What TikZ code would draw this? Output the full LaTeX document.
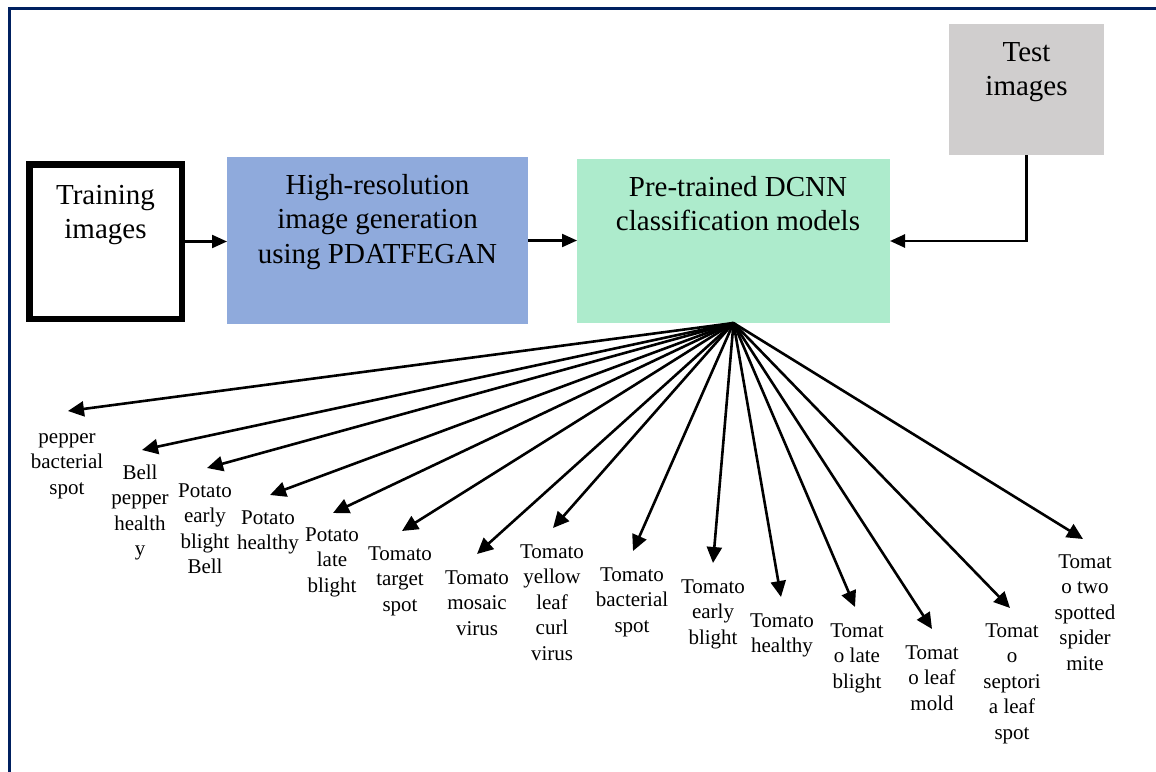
\documentclass[tikz,border=0pt]{standalone}
\usepackage{fontspec}
\setmainfont{Liberation Serif}
\usetikzlibrary{arrows.meta,calc}
\definecolor{navy}{RGB}{0,32,96}
\definecolor{ganblue}{RGB}{143,170,220}
\definecolor{dcnngreen}{RGB}{173,235,204}
\definecolor{testgray}{RGB}{208,206,206}
\tikzset{
  bigtxt/.style={font=\fontsize{29}{34.5}\selectfont, align=center, anchor=base, inner sep=0pt},
  lab/.style={font=\fontsize{21}{25.5}\selectfont, align=center, anchor=base, inner sep=0pt},
  plainbox/.style={draw=none, inner sep=0pt, outer sep=0pt},
  flow/.style={line width=2.2pt, -{Triangle[length=15pt,width=13pt]}},
  fanarrow/.style={line width=2.6pt, -{Triangle[length=16pt,width=15pt]}}
}
\begin{document}
\begin{tikzpicture}[x=1pt,y=-1pt]
\useasboundingbox (0,0) rectangle (1156,771);
\fill[white] (0,0) rectangle (1156,771);
% frame (top and left visible)
\draw[navy, line width=3pt] (9,790) -- (9,8) -- (1170,8);

% boxes
\node[draw, line width=6.5pt, minimum width=152.5pt, minimum height=154.5pt, inner sep=0pt] (train) at (105.5,241.5) {};
\node[plainbox, fill=ganblue, minimum width=301pt, minimum height=167pt] (gan) at (377.5,240.5) {};
\node[plainbox, fill=dcnngreen, minimum width=313pt, minimum height=164pt] (dcnn) at (733.5,241) {};
\node[plainbox, fill=testgray, minimum width=155pt, minimum height=131pt] (test) at (1026.5,89.5) {};

% box texts (base = baseline of last line)
\node[bigtxt] (traintxt) at (105.5,238.5) {Training\\images};
\node[bigtxt] (gantxt) at (377.5,263) {High-resolution\\image generation\\using PDATFEGAN};
\node[bigtxt] (dcnntxt) at (738,230.5) {Pre-trained DCNN\\classification models};
\node[bigtxt] (testtxt) at (1026.5,95.5) {Test\\images};

% flow arrows
\draw[flow] (train.east) -- (train.east -| gan.west);
\draw[flow] (gan.east) -- (gan.east -| dcnn.west);
\draw[flow, line width=2.6pt] (test.south) |- (dcnn.east);

% fan origin
\coordinate (fan) at (dcnn.south);

% labels (base = baseline of last line)
\node[lab] (l1) at (67,494) {pepper\\bacterial\\spot};
\node[lab] (l2) at (140,555.5) {Bell\\pepper\\health\\y};
\node[lab] (l3) at (205,573.5) {Potato\\early\\blight\\Bell};
\node[lab] (l4) at (268,549.5) {Potato\\healthy};
\node[lab] (l5) at (332,592) {Potato\\late\\blight};
\node[lab] (l6) at (400,611) {Tomato\\target\\spot};
\node[lab] (l7) at (477,635) {Tomato\\mosaic\\virus};
\node[lab] (l8) at (552,660) {Tomato\\yellow\\leaf\\curl\\virus};
\node[lab] (l9) at (632,632) {Tomato\\bacterial\\spot};
\node[lab] (l10) at (713,644) {Tomato\\early\\blight};
\node[lab] (l11) at (782,652.5) {Tomato\\healthy};
\node[lab] (l12) at (857,688) {Tomat\\o late\\blight};
\node[lab] (l13) at (932,710) {Tomat\\o leaf\\mold};
\node[lab] (l14) at (1012,739) {Tomat\\o\\septori\\a leaf\\spot};
\node[lab] (l15) at (1085,670) {Tomat\\o two\\spotted\\spider\\mite};

% arrow tips
\coordinate (t1) at (68,411);
\coordinate (t2) at (142,450);
\coordinate (t3) at (207,468);
\coordinate (t4) at (270,495);
\coordinate (t5) at (333,513);
\coordinate (t6) at (402,531);
\coordinate (t7) at (477,554);
\coordinate (t8) at (553,528);
\coordinate (t9) at (633,551);
\coordinate (t10) at (713,563);
\coordinate (t11) at (781,597);
\coordinate (t12) at (855,607);
\coordinate (t13) at (932,629);
\coordinate (t14) at (1010,608);
\coordinate (t15) at (1083,539);

\foreach \i in {1,...,15} {
  \draw[fanarrow] (fan) -- (t\i);
}
\end{tikzpicture}
\end{document}
